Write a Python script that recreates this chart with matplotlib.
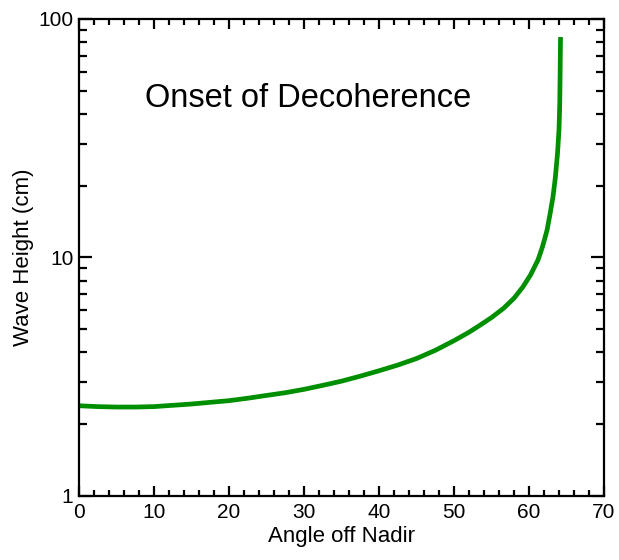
import numpy as np
import matplotlib
matplotlib.use("Agg")
from matplotlib import pyplot as plt
from matplotlib.ticker import LogLocator, FixedLocator, MultipleLocator, NullFormatter

plt.rcParams['font.family'] = ['Liberation Sans', 'DejaVu Sans']

# curve
angle = [0, 2.5, 5, 7.5, 10, 12.5, 15, 17.5, 20, 22.5, 25, 27.5, 30, 32.5, 35,
         37.5, 40, 42.5, 45, 47.5, 50, 52, 53.5, 55, 56.6, 58, 59.2, 60.2,
         61.2, 61.8, 62.4, 62.8, 63.2, 63.5, 63.8, 64.0, 64.1, 64.15, 64.2]
height = [2.39, 2.37, 2.36, 2.36, 2.37, 2.40, 2.43, 2.47, 2.51, 2.57, 2.64,
          2.71, 2.80, 2.91, 3.03, 3.18, 3.35, 3.54, 3.77, 4.08, 4.48, 4.86,
          5.21, 5.60, 6.12, 6.75, 7.54, 8.45, 9.77, 11.1, 13.0, 15.2,
          18.0, 21.5, 27.3, 34.5, 44.3, 60.0, 84.0]

x_ticks = [0, 10, 20, 30, 40, 50, 60, 70]
y_ticks = [1, 10, 100]
y_labels = ["1", "10", "100"]

fig = plt.figure(figsize=(6.19, 5.6), dpi=100)
ax = fig.add_axes([0.1276, 0.1143, 0.8482, 0.8518])

ax.plot(angle, height, color='#008f00', lw=3.4, solid_capstyle='butt',
        solid_joinstyle='round')

ax.set_yscale('log')
ax.set_xlim(0, 70)
ax.set_ylim(1, 100)

ax.xaxis.set_major_locator(FixedLocator(x_ticks))
ax.xaxis.set_minor_locator(MultipleLocator(2))
ax.yaxis.set_major_locator(FixedLocator(y_ticks))
ax.yaxis.set_minor_locator(LogLocator(base=10, subs=np.arange(2, 10)))
ax.yaxis.set_minor_formatter(NullFormatter())
ax.set_yticklabels(y_labels)

ax.tick_params(which='both', direction='in', top=True, right=True, width=1.6,
               labelsize=15, colors='black')
ax.tick_params(axis='x', which='major', length=7.5, pad=5)
ax.tick_params(axis='x', which='minor', length=4.5)
ax.tick_params(axis='y', which='major', length=9.5, pad=4)
ax.tick_params(axis='y', which='minor', length=6)
for s in ax.spines.values():
    s.set_linewidth(1.6)

ax.set_xlabel("Angle off Nadir", fontsize=16, labelpad=3)
ax.set_ylabel("Wave Height (cm)", fontsize=16, labelpad=3)

ax.text(0.436, 0.834, "Onset of Decoherence", transform=ax.transAxes,
        fontsize=23.5, ha='center', va='center')

fig.savefig("out.png", dpi=100)
